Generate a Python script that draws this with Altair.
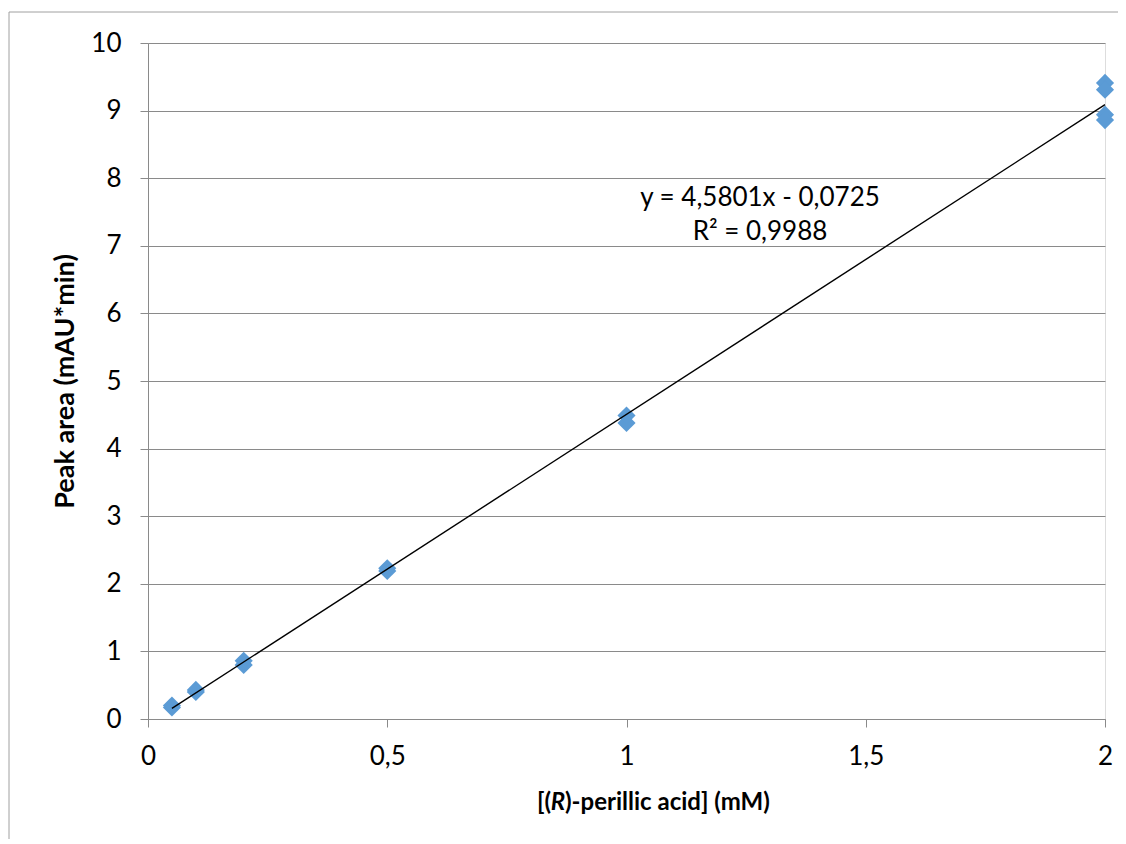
import altair as alt
import pandas as pd

# data
conc = [0.05, 0.05, 0.1, 0.1, 0.2, 0.2, 0.5, 0.5, 1, 1, 2, 2, 2, 2]
area = [0.17, 0.20, 0.40, 0.43, 0.80, 0.86, 2.19, 2.23, 4.38, 4.49, 9.41, 9.31, 8.94, 8.86]
slope = 4.5801
intercept = -0.0725
trend_x = [0.05, 2.0]
x_ticks = [0, 0.5, 1, 1.5, 2]
y_ticks = list(range(0, 11))
eq_line1 = "y = 4,5801x - 0,0725"
eq_line2 = "R² = 0,9988"

pts = pd.DataFrame({"x": conc, "y": area})
trend = pd.DataFrame({"x": trend_x, "y": [slope * v + intercept for v in trend_x]})

W, H = 957, 676
FONT = "Lato"
GRID = "#8a8a8a"

xs = alt.Scale(domain=[0, 2], nice=False, zero=False)
ys = alt.Scale(domain=[0, 10], nice=False)

xaxis = alt.Axis(values=x_ticks, grid=False, labelFlush=False,
                 labelExpr="replace(format(datum.value, '~g'), '.', ',')",
                 labelFont=FONT, labelFontSize=26, labelColor="black", labelPadding=16,
                 tickSize=8, tickColor=GRID, domainColor=GRID, title=None)
yaxis = alt.Axis(values=y_ticks, grid=True, gridColor=GRID, labelFlush=False,
                 labelFont=FONT, labelFontSize=26,
                 labelColor="black", labelPadding=19, tickSize=8, tickColor=GRID,
                 domainColor=GRID, title="Peak area (mAU*min)", titleFont=FONT,
                 titleFontSize=27, titleFontWeight="bold", titleColor="black", titlePadding=11)

points = alt.Chart(pts).mark_point(shape="diamond", filled=True, size=330, opacity=1,
                                   color="#5b9bd5").encode(
    x=alt.X("x:Q", scale=xs, axis=xaxis),
    y=alt.Y("y:Q", scale=ys, axis=yaxis),
)

line = alt.Chart(trend).mark_line(color="black", strokeWidth=1.4).encode(
    x=alt.X("x:Q", scale=xs, axis=xaxis), y=alt.Y("y:Q", scale=ys, axis=yaxis))

one = pd.DataFrame({"a": [0]})
eq_style = dict(font=FONT, fontSize=26, color="black", align="center", baseline="middle")
eq1 = alt.Chart(one).mark_text(text=eq_line1, **eq_style).encode(x=alt.value(612), y=alt.value(155))
eq2 = alt.Chart(one).mark_text(text=eq_line2, **eq_style).encode(x=alt.value(612), y=alt.value(189))

xt_base = dict(font=FONT, fontSize=24, fontWeight="bold", color="black", baseline="middle")
xt1 = alt.Chart(one).mark_text(text="[(", align="right", **xt_base).encode(
    x=alt.value(403), y=alt.value(760))
xt2 = alt.Chart(one).mark_text(text="R", align="center", fontStyle="italic", **xt_base).encode(
    x=alt.value(410), y=alt.value(760))
xt3 = alt.Chart(one).mark_text(text=")-perillic acid] (mM)", align="left", **xt_base).encode(
    x=alt.value(417), y=alt.value(760))

border_v = alt.Chart(one).mark_rule(color="#a0a0a0", strokeWidth=1).encode(
    x=alt.value(-139), y=alt.value(-31), y2=alt.value(900))
border_h = alt.Chart(one).mark_rule(color="#a0a0a0", strokeWidth=1).encode(
    x=alt.value(-139), x2=alt.value(1100), y=alt.value(-31))

chart = alt.layer(points, line, border_v, border_h, eq1, eq2, xt1, xt2, xt3).properties(
    width=W, height=H, autosize=alt.AutoSizeParams(type="none"),
    padding={"left": 140, "top": 35, "right": 13, "bottom": 120},
).configure_view(stroke=None).configure(background="white")

chart.save("out.html", embed_options={"renderer": "svg", "actions": False})
